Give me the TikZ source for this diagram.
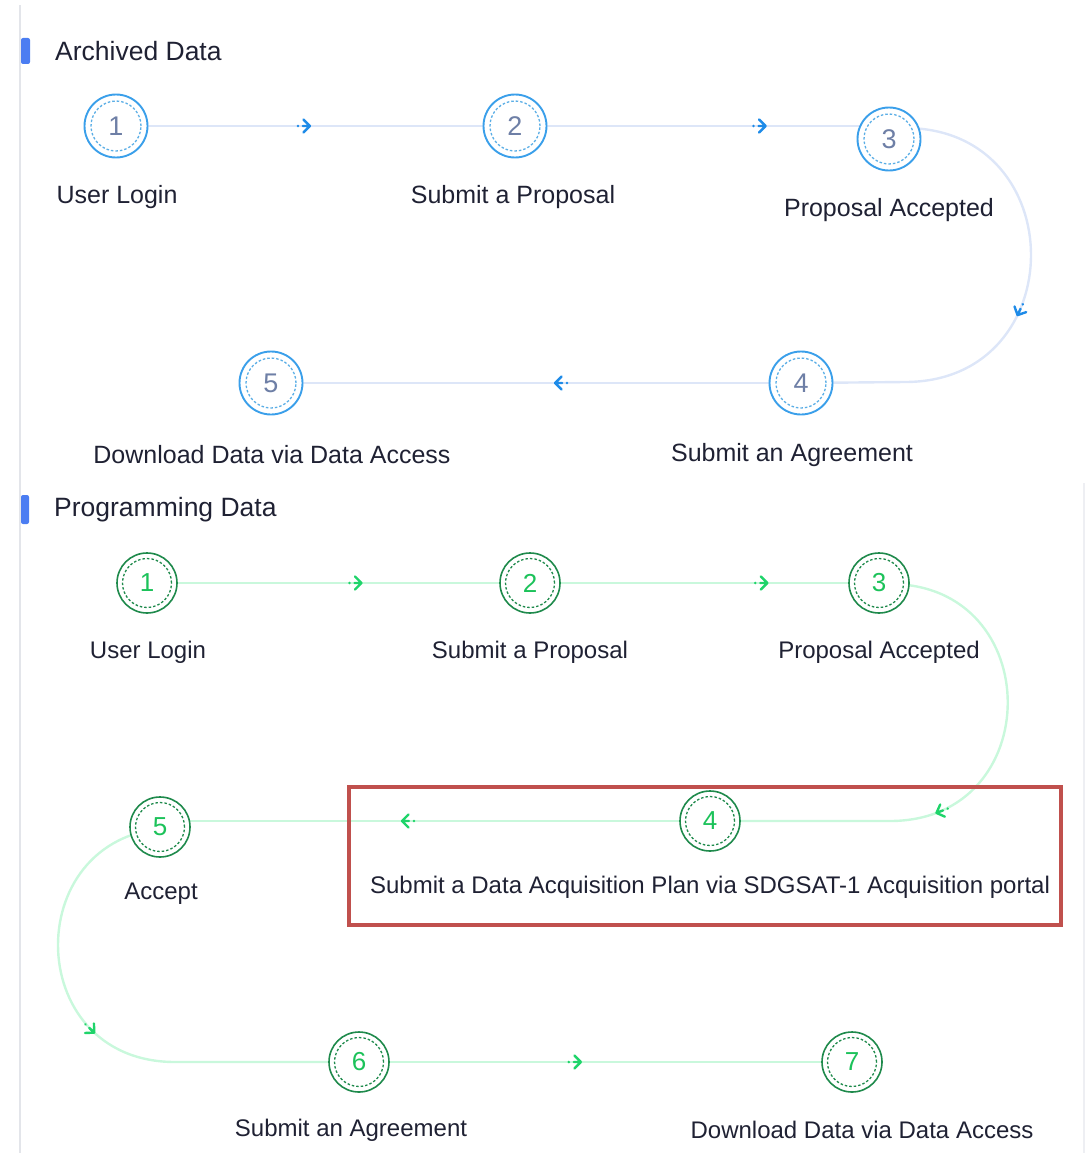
\documentclass[tikz,border=0pt]{standalone}
\usepackage{fontspec}
\setmainfont{Liberation Sans}
\usetikzlibrary{arrows.meta,positioning,backgrounds,decorations.markings}
\definecolor{stepblue}{HTML}{3A9FEA}
\definecolor{dashblue}{HTML}{5AAEE6}
\definecolor{numblue}{HTML}{6E7FA6}
\definecolor{trackblue}{HTML}{DDE6F8}
\definecolor{tipblue}{HTML}{1E8BE8}
\definecolor{stepgreen}{HTML}{1F8A4C}
\definecolor{numgreen}{HTML}{1CC25A}
\definecolor{trackgreen}{HTML}{C9F8DC}
\definecolor{tipgreen}{HTML}{1FD46A}
\definecolor{tabblue}{HTML}{4B7DF2}
\definecolor{railgray}{HTML}{E3E5EA}
\definecolor{labeltext}{HTML}{1F2133}
\definecolor{boxred}{HTML}{C0504D}

\tikzset{
  stepnode/.style={circle, fill=white, inner sep=0pt, minimum size=#1},
  archstep/.style={stepnode=63pt, draw=stepblue, line width=1.9pt, text=numblue,
    font=\fontsize{27}{27}\selectfont,
    path picture={\draw[dashblue, line width=1.3pt, dash pattern=on 2.5pt off 2pt]
      (path picture bounding box.center) circle (25pt);}},
  progstep/.style={stepnode=60pt, draw=stepgreen, line width=1.6pt, text=numgreen,
    font=\fontsize{26}{26}\selectfont,
    path picture={\draw[stepgreen, line width=1.3pt, dash pattern=on 2.5pt off 2pt]
      (path picture bounding box.center) circle (24.5pt);}},
  steplabel/.style={text=labeltext, font=\fontsize{25}{25}\selectfont, inner sep=0pt},
  proglabel/.style={steplabel, font=\fontsize{24}{24}\selectfont},
  % dot, short shaft and open chevron along a track
  flowtip/.style 2 args={postaction={decorate, decoration={markings,
    mark=at position #1 with {
      \fill[#2] (-12pt,0pt) circle (1.4pt);
      \draw[#2, line width=2.4pt, line cap=round, line join=round]
        (-7pt,0pt) -- (0pt,0pt) (-6.5pt,6.5pt) -- (0pt,0pt) -- (-6.5pt,-6.5pt);}}}},
  archline/.style={trackblue, line width=2.4pt},
  progline/.style={trackgreen, line width=2.4pt},
}

\begin{document}
\begin{tikzpicture}[x=1pt, y=-1pt]
  \useasboundingbox (0,0) rectangle (1087,1153);
  % side rails
  \draw[railgray, line width=2pt] (20,5) -- (20,1153);
  \draw[railgray!60, line width=1.5pt] (1084,483) -- (1084,1153);

  % --- archived data ---
  \fill[tabblue, rounded corners=2pt] (21,38) rectangle (30,64);
  \node[steplabel, anchor=west, font=\fontsize{26.5}{26.5}\selectfont] (archtitle) at (55,51) {Archived Data};

  \node[archstep] (a1) at (116,126) {1};
  \node[archstep] (a2) at (515,126) {2};
  \node[archstep] (a3) at (889,139) {3};
  \node[archstep] (a4) at (801,383) {4};
  \node[archstep] (a5) at (271,383) {5};

  \node[steplabel] (a1l) at (117,197) {User Login};
  \node[steplabel] (a2l) at (513,197) {Submit a Proposal};
  \node[steplabel] (a3l) at (889,210) {Proposal Accepted};
  \node[steplabel] (a4l) at (792,455) {Submit an Agreement};
  \node[steplabel] (a5l) at (272,455) {Download Data via Data Access};

  \coordinate (a3r) at (905,128);
  \coordinate (a4r) at (905,382);
  \begin{scope}[on background layer]
    \draw[archline, flowtip={0.486}{tipblue}] (a1.center) -- (a2.center);
    \draw[archline, flowtip={0.67}{tipblue}] (a2.center) -- (a2.center -| a3.center);
    \draw[archline, flowtip={0.52}{tipblue}] (a3r) .. controls +(168,0) and +(168,0) .. (a4r) -- (a4.center);
    \draw[archline, flowtip={0.464}{tipblue}] (a4.center) -- (a5.center);
  \end{scope}

  % --- programming data ---
  \fill[tabblue, rounded corners=2pt] (21,495) rectangle (29,524);
  \node[steplabel, anchor=west, font=\fontsize{26.5}{26.5}\selectfont] (progtitle) at (54,510) {Programming Data};

  \node[progstep] (b1) at (147,583) {1};
  \node[progstep] (b2) at (530,583) {2};
  \node[progstep] (b3) at (879,583) {3};
  \node[progstep] (b4) at (710,821) {4};
  \node[progstep] (b5) at (160,827) {5};
  \node[progstep] (b6) at (359,1062) {6};
  \node[progstep] (b7) at (852,1062) {7};

  \node[proglabel] (b1l) at (148,652) {User Login};
  \node[proglabel] (b2l) at (530,652) {Submit a Proposal};
  \node[proglabel] (b3l) at (879,652) {Proposal Accepted};
  \node[proglabel] (b4l) at (710,887) {Submit a Data Acquisition Plan via SDGSAT-1 Acquisition portal};
  \node[proglabel] (b5l) at (161,894) {Accept};
  \node[proglabel] (b6l) at (351,1130) {Submit an Agreement};
  \node[proglabel] (b7l) at (862,1130) {Download Data via Data Access};

  \coordinate (b3r) at (890,584);
  \coordinate (b4r) at (890,821);
  \coordinate (b5l0) at (175,828);
  \coordinate (b6l0) at (175,1062);
  \begin{scope}[on background layer]
    \draw[progline, flowtip={0.56}{tipgreen}] (b1.center) -- (b2.center);
    \draw[progline, flowtip={0.68}{tipgreen}] (b2.center) -- (b3.center);
    \draw[progline, flowtip={0.59}{tipgreen}] (b3r) .. controls +(157,0) and +(157,0) .. (b4r) -- (b4.center);
    \draw[progline, flowtip={0.56}{tipgreen}] (b4.center) -- (b4.center -| b5.center);
    \draw[progline, flowtip={0.51}{tipgreen}] (b5l0) .. controls +(-156,0) and +(-156,0) .. (b6l0) -- (b6.center);
    \draw[progline, flowtip={0.45}{tipgreen}] (b6.center) -- (b7.center);
  \end{scope}

  % highlighted step
  \draw[boxred, line width=3.5pt] (349,787) rectangle (1061,925);
\end{tikzpicture}
\end{document}
